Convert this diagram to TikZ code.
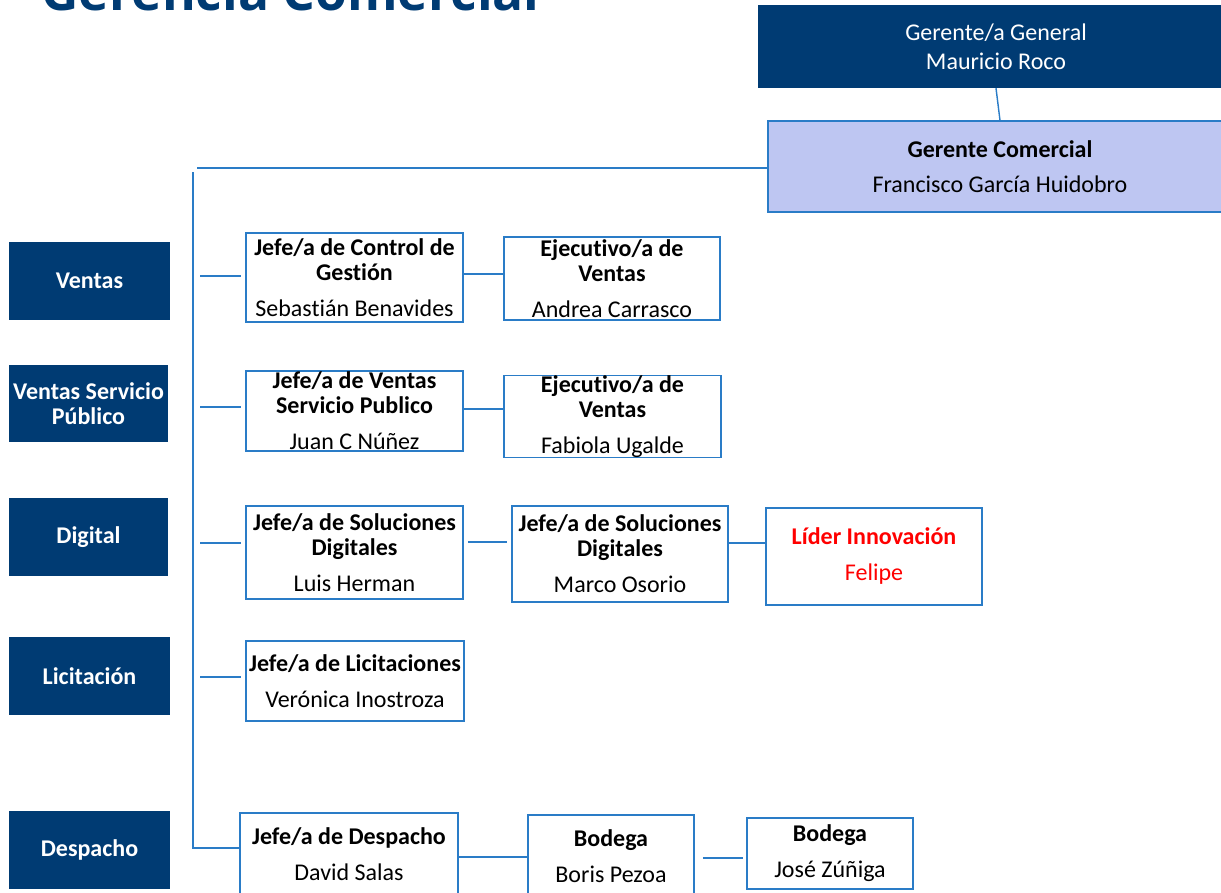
\documentclass[tikz,border=0pt]{standalone}
\usepackage{fontspec}
\setmainfont{Carlito}[Ligatures=NoCommon]
\newfontfamily\titlefont{Open Sans}
\definecolor{navy}{HTML}{003B73}
\definecolor{lineblue}{HTML}{2A7CC7}
\definecolor{lavender}{HTML}{BEC6F2}
\begin{document}
\begin{tikzpicture}[x=1pt,y=-1pt,
        area/.style={fill=navy,text=white,align=center,inner sep=0pt,
            font=\bfseries\fontsize{24}{25}\selectfont},
        cargo/.style={draw=lineblue,line width=1.5pt,fill=white,align=center,
            inner sep=0pt,font=\fontsize{24}{25}\selectfont},
        conn/.style={lineblue,line width=1.4pt}]
    \useasboundingbox (0,0) rectangle (1221,892);
    \node[anchor=base west,text=navy,font=\titlefont\bfseries\fontsize{51.5}{55}\selectfont]
        (titulo) at (38,10) {Gerencia Comercial};
    % gerencias
    \node[area,font=\fontsize{24}{29}\selectfont,minimum width=477,minimum height=83]
        (gg) at (996,46.5) {Gerente/a General\\Mauricio Roco};
    \node[cargo,fill=lavender,minimum width=464,minimum height=91]
        (gc) at (1000,166.5) {\textbf{Gerente Comercial}\\[10pt]Francisco García Huidobro};
    % areas
    \node[area,minimum width=161,minimum height=78] (ventas) at (89.5,281) {Ventas};
    \node[area,minimum width=159,minimum height=77] (vsp) at (88.5,403.5) {Ventas Servicio\\Público};
    \node[area,minimum width=159,minimum height=78] (digital) at (88.5,537) {Digital};
    \node[area,minimum width=161,minimum height=78] (licit) at (89.5,676) {Licitación};
    \node[area,minimum width=161,minimum height=78] (despacho) at (89.5,850) {Despacho};
    % cargos
    \node[cargo,minimum width=217,minimum height=89] (a1) at (354.5,277.5)
        {\textbf{Jefe/a de Control de}\\\textbf{Gestión}\\[11pt]Sebastián Benavides};
    \node[cargo,minimum width=216,minimum height=83] (a2) at (612,278.5)
        {\textbf{Ejecutivo/a de}\\\textbf{Ventas}\\[11pt]Andrea Carrasco};
    \node[cargo,minimum width=217,minimum height=80] (b1) at (354.5,411)
        {\textbf{Jefe/a de Ventas}\\\textbf{Servicio Publico}\\[11pt]Juan C Núñez};
    \node[cargo,minimum width=217,minimum height=81] (b2) at (612.5,416.5)
        {\textbf{Ejecutivo/a de}\\\textbf{Ventas}\\[11pt]Fabiola Ugalde};
    \node[cargo,minimum width=217,minimum height=93] (c1) at (354.5,552.5)
        {\textbf{Jefe/a de Soluciones}\\\textbf{Digitales}\\[11pt]Luis Herman};
    \node[cargo,minimum width=216,minimum height=96] (c2) at (620,554)
        {\textbf{Jefe/a de Soluciones}\\\textbf{Digitales}\\[11pt]Marco Osorio};
    \node[cargo,text=red,minimum width=216,minimum height=97] (c3) at (874,556.5)
        {\textbf{Líder Innovación}\\[11pt]Felipe};
    \node[cargo,minimum width=218,minimum height=80] (d1) at (355,681)
        {\textbf{Jefe/a de Licitaciones}\\[11pt]Verónica Inostroza};
    \node[cargo,minimum width=218,minimum height=82] (e1) at (349,854)
        {\textbf{Jefe/a de Despacho}\\[11pt]David Salas};
    \node[cargo,minimum width=166,minimum height=82] (e2) at (611,856)
        {\textbf{Bodega}\\[11pt]Boris Pezoa};
    \node[cargo,minimum width=166,minimum height=71] (e3) at (830,853.5)
        {\textbf{Bodega}\\[11pt]José Zúñiga};
    % lineas
    \coordinate (trunktop) at (197,168);
    \coordinate (trunkbot) at (193,848);
    \draw[conn] (gg.south) -- (gc.north);
    \draw[conn] (gc.west |- trunktop) -- (trunktop);
    \draw[conn] (193,172) -- (trunkbot) -- (trunkbot -| e1.west);
    \foreach \n/\y in {a1/276,b1/407,c1/543,d1/677}{
        \draw[conn,shorten >=4pt] (200,\y) -- (\n.west |- 0,\y);
        };
    \draw[conn] (a1.east |- 0,274) -- (a2.west |- 0,274);
    \draw[conn] (b1.east |- 0,409) -- (b2.west |- 0,409);
    \draw[conn,shorten <=4pt,shorten >=4pt] (c1.east |- 0,542) -- (c2.west |- 0,542);
    \draw[conn] (c2.east |- 0,543) -- (c3.west |- 0,543);
    \draw[conn] (e1.east |- 0,857) -- (e2.west |- 0,857);
    \draw[conn,shorten <=8pt,shorten >=3pt] (e2.east |- 0,858) -- (e3.west |- 0,858);
\end{tikzpicture}
\end{document}
